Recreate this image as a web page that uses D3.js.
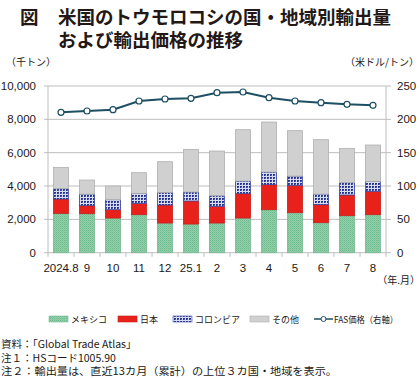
<!DOCTYPE html>
<html><head><meta charset="utf-8">
<script src="https://cdn.jsdelivr.net/npm/d3@7/dist/d3.min.js"></script>
<style>body{margin:0;background:#fff;} svg{display:block;font-family:"Noto Sans CJK JP","Liberation Sans",sans-serif;}</style>
</head><body>
<svg id="c" width="420" height="378"></svg>
<script>
const months = ["2024.8","9","10","11","12","25.1","2","3","4","5","6","7","8"];
const mexico   = [2360,2340,2080,2280,1780,1720,1780,2080,2580,2400,1800,2220,2280];
const japan    = [860,480,500,680,1080,1380,1000,1460,1500,1640,1080,1240,1400];
const colombia = [620,700,600,600,760,540,640,760,760,560,640,740,600];
const others   = [1280,840,820,1240,1840,2560,2680,3080,3000,2720,3260,2060,2180];
const price    = [210.5,212.5,214.5,227.5,230.5,231.5,240,241,232.5,227.5,225,222.5,221];
const leftTicks = [0,2000,4000,6000,8000,10000];
const rightTicks = [0,50,100,150,200,250];
const seriesNames = ["メキシコ","日本","コロンビア","その他"];

const svg = d3.select("#c");
const defs = svg.append("defs");
const pm = defs.append("pattern").attr("id","pMex").attr("width",2).attr("height",2).attr("patternUnits","userSpaceOnUse");
pm.append("rect").attr("width",2).attr("height",2).attr("fill","#93d1ab");
pm.append("rect").attr("width",1).attr("height",1).attr("fill","#6cb78c");
pm.append("rect").attr("x",1).attr("y",1).attr("width",1).attr("height",1).attr("fill","#7fc49c");
const pc = defs.append("pattern").attr("id","pCol").attr("width",3).attr("height",3).attr("patternUnits","userSpaceOnUse");
pc.append("rect").attr("width",3).attr("height",3).attr("fill","#d8dcf0");
pc.append("rect").attr("width",2).attr("height",2).attr("fill","#27348b");
pc.append("rect").attr("x",1).attr("y",1).attr("width",1).attr("height",1).attr("fill","#5a66b5");

const fills = ["url(#pMex)","#e8221a","url(#pCol)","#d0d0d0"];
const strokes = ["#78b893","#c8201a","#3b46a0","#b0b0b0"];

const x0 = 48, x1 = 386, yTop = 86, yBot = 252.7;
const x = d3.scaleBand().domain(months).range([x0,x1]).paddingInner(0.42).paddingOuter(0.21);
const yL = d3.scaleLinear().domain([0,10000]).range([yBot,yTop]);
const yR = d3.scaleLinear().domain([0,250]).range([yBot,yTop]);

// title
const title = svg.append("g").attr("fill","#231815").attr("font-weight","bold").attr("font-size",18.5);
title.append("text").attr("x",20).attr("y",24).text("図");
title.append("text").attr("x",58).attr("y",24).text("米国のトウモロコシの国・地域別輸出量");
title.append("text").attr("x",58).attr("y",47).text("および輸出価格の推移");

svg.append("text").attr("x",6).attr("y",66).attr("font-size",10).attr("fill","#231815").text("（千トン）");
svg.append("text").attr("x",419).attr("y",66).attr("text-anchor","end").attr("font-size",10).attr("fill","#231815").text("（米ドル/トン）");

// grid
svg.append("g").selectAll("line").data(leftTicks).join("line")
  .attr("x1",x0-4).attr("x2",x1+5).attr("y1",d=>yL(d)).attr("y2",d=>yL(d))
  .attr("stroke","#bdbdbd").attr("stroke-width",1);
// axes lines
svg.append("line").attr("x1",x0).attr("x2",x0).attr("y1",yTop).attr("y2",yBot).attr("stroke","#bdbdbd");
svg.append("line").attr("x1",x1).attr("x2",x1).attr("y1",yTop).attr("y2",yBot).attr("stroke","#bdbdbd");

// left labels
svg.append("g").selectAll("text").data(leftTicks).join("text")
  .attr("x",36).attr("y",d=>yL(d)+4).attr("text-anchor","end").attr("font-size",11.5)
  .attr("font-family","Liberation Sans, Arial, sans-serif").attr("fill","#231815")
  .text(d=>d3.format(",")(d));
svg.append("g").selectAll("text").data(rightTicks).join("text")
  .attr("x",397).attr("y",d=>yR(d)+4).attr("text-anchor","start").attr("font-size",11.5)
  .attr("font-family","Liberation Sans, Arial, sans-serif").attr("fill","#231815")
  .text(d=>d);

// x ticks
const bounds = months.map((m,i)=>x0+i*(x1-x0)/months.length).concat([x1]);
svg.append("g").selectAll("line").data(bounds).join("line")
  .attr("x1",d=>d).attr("x2",d=>d).attr("y1",yBot).attr("y2",yBot+4).attr("stroke","#bdbdbd");
svg.append("g").selectAll("text").data(months).join("text")
  .attr("x",d=>x(d)+x.bandwidth()/2).attr("y",272).attr("text-anchor","middle").attr("font-size",11.5)
  .attr("font-family","Liberation Sans, Arial, sans-serif").attr("fill","#231815").text(d=>d);
svg.append("text").attr("x",420).attr("y",284).attr("text-anchor","end").attr("font-size",10).attr("fill","#231815").text("（年.月）");

// stacked bars
const rows = months.map((m,i)=>({m, s0:mexico[i], s1:japan[i], s2:colombia[i], s3:others[i]}));
const stack = d3.stack().keys(["s0","s1","s2","s3"])(rows);
stack.forEach((layer,k)=>{
  svg.append("g").selectAll("rect").data(layer).join("rect")
    .attr("x",d=>x(d.data.m)).attr("width",x.bandwidth())
    .attr("y",d=>yL(d[1])).attr("height",d=>yL(d[0])-yL(d[1]))
    .attr("fill",fills[k]).attr("stroke",strokes[k]).attr("stroke-width",0.8);
});

// price line
const line = d3.line().x((d,i)=>x(months[i])+x.bandwidth()/2).y(d=>yR(d));
svg.append("path").datum(price).attr("d",line).attr("fill","none").attr("stroke","#1d4f63").attr("stroke-width",2);
svg.append("g").selectAll("circle").data(price).join("circle")
  .attr("cx",(d,i)=>x(months[i])+x.bandwidth()/2).attr("cy",d=>yR(d)).attr("r",3)
  .attr("fill","#fff").attr("stroke","#1d4f63").attr("stroke-width",1.2);

// legend
const lg = svg.append("g").attr("font-size",9).attr("fill","#231815");
const legX = [49,118,173,250];
seriesNames.forEach((n,k)=>{
  lg.append("rect").attr("x",legX[k]).attr("y",316).attr("width",19).attr("height",6).attr("fill",fills[k]).attr("stroke",strokes[k]).attr("stroke-width",0.6);
  lg.append("text").attr("x",legX[k]+22).attr("y",322.5).text(n);
});
lg.append("line").attr("x1",314).attr("x2",333).attr("y1",319).attr("y2",319).attr("stroke","#1d4f63").attr("stroke-width",1.5);
lg.append("circle").attr("cx",323.5).attr("cy",319).attr("r",2.5).attr("fill","#fff").attr("stroke","#1d4f63");
lg.append("text").attr("x",334).attr("y",322.5).attr("textLength",64).attr("lengthAdjust","spacingAndGlyphs").text("FAS価格（右軸）");

// notes
const nt = svg.append("g").attr("font-size",10.5).attr("fill","#231815");
nt.append("text").attr("x",1).attr("y",348).text("資料：「Global Trade Atlas」");
nt.append("text").attr("x",1).attr("y",361.5).text("注１：HSコード1005.90");
nt.append("text").attr("x",1).attr("y",375).attr("textLength",336).attr("lengthAdjust","spacingAndGlyphs").text("注２：輸出量は、直近13カ月（累計）の上位３カ国・地域を表示。");
</script>
</body></html>
